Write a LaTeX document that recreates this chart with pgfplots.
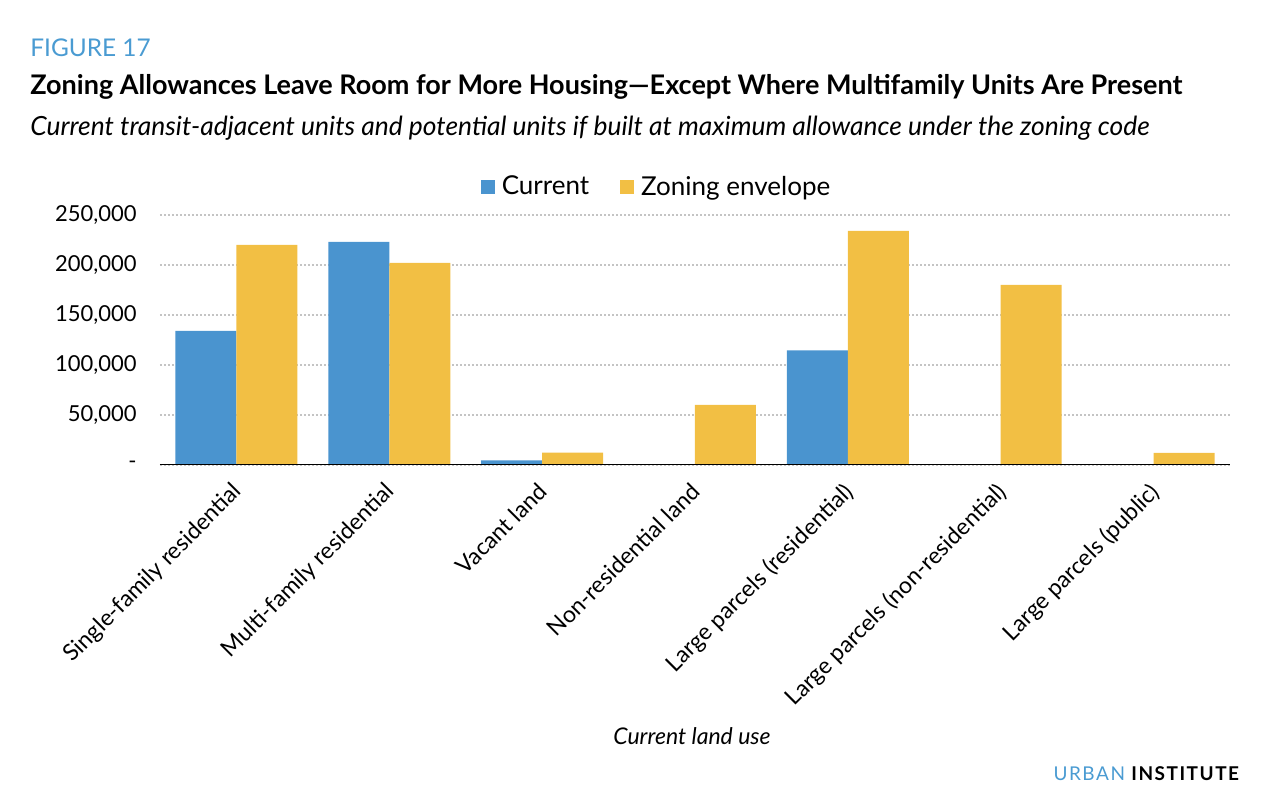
\documentclass[border=0pt]{standalone}
\usepackage{fontspec}
\setmainfont{Lato}
\usepackage{pgfplots}
\pgfplotsset{compat=1.18}
\definecolor{ublue}{HTML}{4A94CF}
\definecolor{uyellow}{HTML}{F2BF44}
\definecolor{figblue}{HTML}{4A9BD2}
\definecolor{gridgray}{HTML}{C4C4C4}
\begin{document}
\begin{tikzpicture}[x=1pt,y=1pt]
\useasboundingbox (-80,-168.5) rectangle (553,232.5);
\begin{axis}[
  at={(0,0)}, anchor=south west,
  scale only axis, width=535pt, height=125pt,
  xmin=-0.5, xmax=6.5, ymin=0, ymax=250000,
  ybar=0pt, bar width=30.5pt,
  xtick={0,...,6},
  xticklabels={Single-family residential, Multi-family residential, Vacant land, Non-residential land, Large parcels (residential), Large parcels (non-residential), Large parcels (public)},
  ytick={0,50000,100000,150000,200000,250000},
  yticklabels={-,{50,000},{100,000},{150,000},{200,000},{250,000}},
  scaled y ticks=false,
  ymajorgrids,
  major grid style={gridgray, line width=0.8pt, dash pattern=on 1pt off 1pt},
  axis line style={draw=none},
  major tick length=0pt,
  yticklabel style={font=\fontsize{11}{13}\selectfont, anchor=east, inner sep=0pt, xshift=-11.5pt},
  xticklabel style={font=\fontsize{11.5}{13}\selectfont, rotate=45, anchor=north east, inner sep=0pt, xshift=-7.5pt, yshift=-3.5pt},
  legend style={at={(0.4664,1.112)}, anchor=center, draw=none, fill=none, legend columns=2,
    font=\fontsize{13}{15}\selectfont,
    nodes={inner xsep=3.5pt},
    /tikz/every even column/.append style={column sep=12pt}},
  legend image code/.code={\fill[#1] (0pt,-3.5pt) rectangle (7pt,3.5pt);},
]
\addplot[fill=ublue, draw=none] coordinates {(0,134000) (1,223000) (2,4500) (3,0) (4,114500) (5,0) (6,0)};
\addplot[fill=uyellow, draw=none] coordinates {(0,220000) (1,202000) (2,12300) (3,60000) (4,234000) (5,180000) (6,12000)};
\legend{Current, Zoning envelope}
\draw[black, line width=1.2pt] (rel axis cs:0,0) -- (rel axis cs:1,0);
\end{axis}
\node[anchor=base west, inner sep=0pt, text=figblue, font=\fontsize{12.2}{15}\selectfont] at (-65,204) {FIGURE 17};
\node[anchor=base west, inner sep=0pt, font=\bfseries\fontsize{13.5}{16}\selectfont] at (-65,185) {Zoning Allowances Leave Room for More Housing—Except Where Multifamily Units Are Present};
\node[anchor=base west, inner sep=0pt, font=\itshape\fontsize{13.2}{16}\selectfont] at (-65,164.5) {Current transit-adjacent units and potential units if built at maximum allowance under the zoning code};
\node[anchor=base, inner sep=0pt, font=\itshape\fontsize{11.5}{14}\selectfont] at (266,-140) {Current land use};
\node[anchor=base east, inner sep=0pt, font=\fontsize{9.5}{12}\selectfont\addfontfeatures{LetterSpace=8}] at (540.5,-158) {\textcolor{figblue}{URBAN} \textbf{INSTITUTE}};
\end{tikzpicture}
\end{document}
